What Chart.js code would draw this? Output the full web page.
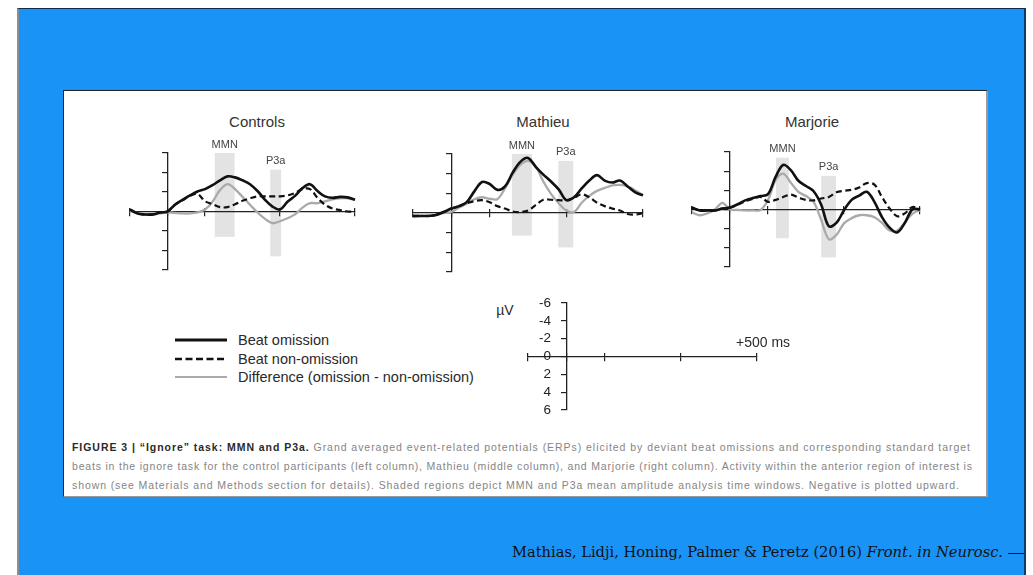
<!DOCTYPE html>
<html>
<head>
<meta charset="utf-8">
<script src="https://cdn.jsdelivr.net/npm/chart.js@4.4.1/dist/chart.umd.min.js"></script>
<style>
  html, body { margin: 0; padding: 0; background: #fff; }
  body { width: 1033px; height: 575px; position: relative; overflow: hidden; font-family: "Liberation Sans", Arial, sans-serif; }
  #slide { position: absolute; left: 17px; top: 8px; width: 1005px; height: 570px; background: #1994f6;
           border-top: 1px solid #0c2c4a; border-left: 2px solid #8a8f96; border-right: 2px solid #0d3c6c; }
  #fig { position: absolute; left: 63px; top: 90px; width: 922px; height: 405px; background: #fff;
         border-top: 1px solid #222; border-left: 1px solid #222; border-right: 2px solid #9a9a9a; border-bottom: 1px solid #9a9a9a; }
  .abs { position: absolute; white-space: nowrap; }
  .title { font-size: 15px; color: #333; transform: translate(-50%, -50%); }
  .leg { font-size: 14.5px; color: #2a2a2a; transform: translateY(-50%); }
  .cap { font-size: 10.5px; line-height: 12px; color: #858585; }
  .cap b { color: #2a2a2a; }
  canvas { position: absolute; }
</style>
</head>
<body>
<div id="slide"></div>
<div id="fig"></div>

<div class="abs title" style="left:257px; top:121px;">Controls</div>
<div class="abs title" style="left:543px; top:121px;">Mathieu</div>
<div class="abs title" style="left:812px; top:121px;">Marjorie</div>

<canvas id="controls" width="249" height="159" style="left:118px; top:123px;"></canvas>
<canvas id="mathieu" width="254" height="160" style="left:401px; top:124px;"></canvas>
<canvas id="marjorie" width="252" height="157" style="left:680px; top:122px;"></canvas>
<canvas id="scalebar" width="253" height="131" style="left:516px; top:291px;"></canvas>

<svg class="abs" style="left:175px; top:330px;" width="54" height="54">
  <line x1="0" y1="10" x2="52" y2="10" stroke="#111" stroke-width="3"/>
  <line x1="0" y1="29" x2="52" y2="29" stroke="#111" stroke-width="2.5" stroke-dasharray="7 3.5"/>
  <line x1="0" y1="47" x2="52" y2="47" stroke="#aaa" stroke-width="2.2"/>
</svg>
<div class="abs leg" style="left:238px; top:340px;">Beat omission</div>
<div class="abs leg" style="left:238px; top:359px;">Beat non-omission</div>
<div class="abs leg" style="left:238px; top:377px;">Difference (omission - non-omission)</div>

<div class="abs" style="left:505px; top:310px; font-size:14px; color:#2a2a2a; transform:translate(-50%,-50%);">µV</div>
<div class="abs" style="left:763px; top:342px; font-size:14px; color:#2a2a2a; transform:translate(-50%,-50%);">+500 ms</div>

<div class="abs cap" data-w="898" style="left:72px; top:441px;"><b>FIGURE 3 | “Ignore” task: MMN and P3a.</b> Grand averaged event-related potentials (ERPs) elicited by deviant beat omissions and corresponding standard target</div>
<div class="abs cap" data-w="900" style="left:72px; top:460px;">beats in the ignore task for the control participants (left column), Mathieu (middle column), and Marjorie (right column). Activity within the anterior region of interest is</div>
<div class="abs cap" data-w="887" style="left:72px; top:479px;">shown (see Materials and Methods section for details). Shaded regions depict MMN and P3a mean amplitude analysis time windows. Negative is plotted upward.</div>

<div id="cite" class="abs" style="left:512px; top:552px; font-family:'DejaVu Serif', serif; font-size:15px; color:#111; transform-origin:0 50%;">Mathias, Lidji, Honing, Palmer &amp; Peretz (2016) <i>Front. in Neurosc.</i></div>
<div class="abs" style="left:1008px; top:553px; width:16px; height:1px; background:#111;"></div>

<script>
// time base (ms) shared by every panel
const timeMs = [-100, -80, -60, -40, -20, 0, 20, 40, 60, 80, 100, 120, 140, 160, 180, 200,
                220, 240, 260, 280, 300, 320, 340, 360, 380, 400, 420, 440, 460, 480, 500, 510];

// amplitudes in µV (negative plotted upward)
const controlsOmission = [-0.2, 0.2, 0.3, 0.3, 0.1, 0, -0.7, -1.2, -1.65, -2.05, -2.3, -2.7, -3.2, -3.6, -3.5, -3.2,
                          -2.8, -2.1, -1.2, -0.5, -0.2, -1.0, -1.6, -2.4, -2.8, -2.1, -1.55, -1.4, -1.5, -1.45, -1.2, -1.1];
const controlsNonOmission = [-0.2, 0.2, 0.3, 0.3, 0.1, 0, -0.7, -1.15, -1.6, -1.8, -1.05, -0.75, -0.45, -0.45, -0.75, -1.1,
                             -1.35, -1.55, -1.55, -1.55, -1.55, -1.65, -1.9, -2.3, -2.3, -1.4, -0.7, -0.3, -0.15, 0, 0, 0.05];
const controlsDifference = [-0.1, 0.2, 0.3, 0.3, 0.2, 0.1, 0.15, 0.2, 0.2, 0.1, -0.2, -1.0, -2.2, -2.8, -2.3, -1.5,
                            -0.7, 0.1, 0.75, 1.2, 1.0, 0.7, 0.3, -0.4, -0.85, -0.85, -1.05, -1.25, -1.35, -1.35, -1.2, -1.2];

const mathieuOmission = [0.3, 0.3, 0.3, 0.2, -0.1, -0.45, -0.7, -1.1, -2.2, -3.15, -2.95, -2.35, -2.7, -4.1, -5.2, -5.6,
                         -4.7, -3.9, -3.2, -2.4, -1.3, -1.6, -2.5, -3.3, -3.85, -3.3, -3.1, -3.3, -2.7, -2.1, -1.8, -1.7];
const mathieuNonOmission = [0.3, 0.3, 0.3, 0.2, -0.1, -0.45, -0.7, -1.0, -1.2, -1.3, -1.1, -0.7, -0.45, -0.15, -0.1, -0.25,
                            -0.8, -1.35, -1.35, -1.3, -1.3, -1.55, -1.9, -1.6, -1.05, -0.7, -0.45, -0.25, 0.1, 0.15, 0, -0.3];
const mathieuDifference = [0.4, 0.3, 0.3, 0.2, 0, -0.1, -0.55, -0.95, -1.4, -1.6, -1.45, -1.4, -2.5, -3.9, -4.9, -5.3,
                           -4.75, -3.2, -1.95, -1.0, -0.25, -0.1, -1.05, -1.75, -2.25, -2.55, -2.8, -2.85, -2.7, -2.3, -1.8, -1.6];

const marjorieOmission = [-0.2, 0.1, 0.1, 0.1, -0.1, -0.2, -0.55, -0.95, -1.2, -1.4, -1.6, -3.4, -4.65, -4.1, -3.0, -2.45,
                          -1.9, -0.5, 1.75, 1.4, 0.07, -1.0, -1.45, -1.85, -0.8, 0.8, 1.9, 2.4, 1.4, 0, 0, 0.1];
const marjorieNonOmission = [-0.2, 0.1, 0.1, 0.1, -0.1, -0.2, -0.5, -0.85, -1.1, -1.3, -0.8, -1.0, -1.3, -1.55, -1.25, -1.0,
                             -0.95, -1.15, -1.3, -1.8, -1.95, -2.05, -2.3, -2.75, -2.6, -1.3, -0.1, 0.7, 0.4, -0.25, -0.05, 0.1];
const marjorieDifference = [0.3, 0.6, 0.4, 0, -0.7, 0, 0.05, 0.1, 0.1, 0.05, -1.0, -3.05, -3.75, -2.8, -1.85, -1.4,
                            -0.8, 1.1, 3.1, 2.65, 1.45, 0.9, 0.6, 0.6, 0.8, 1.4, 2.2, 2.2, 1.35, 0.45, 0.1, 0.25];

// analysis windows: MMN, P3a (ms and µV extent of the shading)
const windowLabels = ['MMN', 'P3a'];
const controlsWinStart = [126, 274], controlsWinEnd = [179, 303];
const controlsWinTop = [-6, -4.3], controlsWinBottom = [2.6, 4.6];
const mathieuWinStart = [158, 279], mathieuWinEnd = [210, 318];
const mathieuWinTop = [-6, -5.3], mathieuWinBottom = [2.3, 3.5];
const marjorieWinStart = [121, 240], marjorieWinEnd = [155, 279];
const marjorieWinTop = [-5.4, -3.5], marjorieWinBottom = [3.0, 5.0];

// axes
const xTickMs = [-100, 0, 100, 300, 500];
const yMinUv = -6, yMaxUv = 6, yStepUv = 2;

const AXIS = '#222';
const FONT = '"Liberation Sans", Arial, sans-serif';

function toPoints(vals) {
    return timeMs.map((t, i) => ({ x: t, y: vals[i] }));
}

// shaded time windows + their labels, drawn under the axes
function windowPlugin(start, end, top, bottom) {
    return {
        id: 'windows',
        beforeDraw(chart) {
            const { ctx, scales: { x, y } } = chart;
            ctx.save();
            start.forEach((s, i) => {
                const x0 = x.getPixelForValue(s), x1 = x.getPixelForValue(end[i]);
                const y0 = y.getPixelForValue(top[i]), y1 = y.getPixelForValue(bottom[i]);
                ctx.fillStyle = 'rgba(170,170,170,0.33)';
                ctx.fillRect(x0, y0, x1 - x0, y1 - y0);
                ctx.fillStyle = '#444';
                ctx.font = '11px ' + FONT;
                ctx.textAlign = 'center';
                ctx.textBaseline = 'bottom';
                ctx.fillText(windowLabels[i], (x0 + x1) / 2, y0 - 3);
            });
            ctx.restore();
        }
    };
}

function xAxes() {
    const base = {
        type: 'linear', min: -100, max: 500, position: { y: 0 },
        afterBuildTicks: s => { s.ticks = xTickMs.map(v => ({ value: v })); },
        afterFit: s => { s.height = 0; },
        ticks: { display: false }
    };
    return {
        x: { ...base, grid: { drawOnChartArea: false, tickLength: 4, color: AXIS, lineWidth: 1.2 },
             border: { color: AXIS, width: 1.3 } },
        xUp: { ...base, axis: 'x', grid: { drawOnChartArea: false, tickLength: -4, color: AXIS, lineWidth: 1.2 },
               border: { display: false } }
    };
}

function yAxis() {
    return {
        type: 'linear', min: yMinUv, max: yMaxUv, reverse: true, position: { x: 0 },
        afterFit: s => { s.width = 0; },
        ticks: { display: false, stepSize: yStepUv, autoSkip: false },
        grid: { drawOnChartArea: false, tickLength: 5, color: AXIS, lineWidth: 1.2 },
        border: { color: AXIS, width: 1.3 }
    };
}

function makePanel(id, omission, nonOmission, difference, ws, we, wt, wb) {
    new Chart(document.getElementById(id), {
        type: 'line',
        data: {
            datasets: [
                { data: toPoints(omission), borderColor: '#111', borderWidth: 2.6 },
                { data: toPoints(nonOmission), borderColor: '#111', borderWidth: 2.2, borderDash: [6, 3.5] },
                { data: toPoints(difference), borderColor: '#aaa', borderWidth: 2.3 }
            ]
        },
        options: {
            responsive: false,
            animation: false,
            clip: false,
            layout: { padding: { top: 30, left: 12, right: 12, bottom: 12 } },
            elements: { point: { radius: 0 }, line: { tension: 0.35, fill: false } },
            plugins: { legend: { display: false }, tooltip: { enabled: false } },
            scales: { ...xAxes(), y: yAxis() }
        },
        plugins: [windowPlugin(ws, we, wt, wb)]
    });
}

makePanel('controls', controlsOmission, controlsNonOmission, controlsDifference,
          controlsWinStart, controlsWinEnd, controlsWinTop, controlsWinBottom);
makePanel('mathieu', mathieuOmission, mathieuNonOmission, mathieuDifference,
          mathieuWinStart, mathieuWinEnd, mathieuWinTop, mathieuWinBottom);
makePanel('marjorie', marjorieOmission, marjorieNonOmission, marjorieDifference,
          marjorieWinStart, marjorieWinEnd, marjorieWinTop, marjorieWinBottom);

// calibration bar with labelled µV axis
new Chart(document.getElementById('scalebar'), {
    type: 'line',
    data: { datasets: [] },
    options: {
        responsive: false,
        animation: false,
        layout: { padding: 12 },
        plugins: { legend: { display: false }, tooltip: { enabled: false } },
        scales: {
            ...xAxes(),
            y: yAxis(),
            yLab: {
                axis: 'y', type: 'linear', min: yMinUv, max: yMaxUv, reverse: true, position: { x: -40 },
                afterFit: s => { s.width = 0; },
                ticks: { stepSize: yStepUv, autoSkip: false, color: '#222', font: { family: FONT, size: 13.5 } },
                grid: { display: false },
                border: { display: false }
            }
        }
    }
});

// stretch caption lines to their width in the figure
document.querySelectorAll('.cap').forEach(el => {
    const w = el.getBoundingClientRect().width;
    const n = el.textContent.length - 1;
    el.style.letterSpacing = ((+el.dataset.w - w) / n) + 'px';
});
const cite = document.getElementById('cite');
const cw = cite.getBoundingClientRect().width;
cite.style.transform = 'translateY(-50%) scaleX(' + (491 / cw) + ')';
</script>
</body>
</html>
